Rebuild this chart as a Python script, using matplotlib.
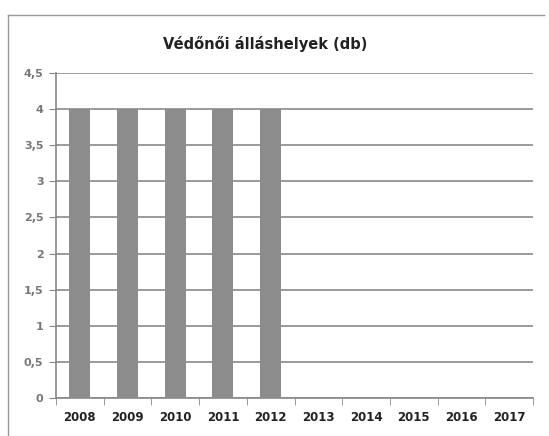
import matplotlib.pyplot as plt
import numpy as np

# Data
years = ['2008', '2009', '2010', '2011', '2012', '2013', '2014', '2015', '2016', '2017']
positions = [4, 4, 4, 4, 4, 0, 0, 0, 0, 0]
yticks = [0, 0.5, 1, 1.5, 2, 2.5, 3, 3.5, 4, 4.5]
ytick_labels = ['0', '0,5', '1', '1,5', '2', '2,5', '3', '3,5', '4', '4,5']

fig = plt.figure(figsize=(5.49, 4.36), dpi=100)
ax = fig.add_axes([0.102, 0.087, 0.869, 0.746])

x = np.arange(len(years))
ax.bar(x, positions, width=0.44, color='#8c8c8c', zorder=3)

ax.set_xlim(-0.5, len(years) - 0.5)
ax.set_ylim(0, 4.5)
ax.set_yticks(yticks)
ax.set_yticklabels(ytick_labels, fontsize=8, fontweight='bold', color='#777777')
ax.set_xticks(x)
ax.set_xticklabels(years, fontsize=8.5, fontweight='bold', color='#222222')
ax.set_xticks(np.arange(len(years) + 1) - 0.5, minor=True)
ax.tick_params(axis='x', which='major', length=0, pad=9)
ax.tick_params(axis='x', which='minor', length=5, color='#888888')
ax.tick_params(axis='y', length=5, color='#888888', pad=4)

ax.grid(axis='y', color='#8a8a8a', linewidth=1.2, zorder=0)
for side in ['top', 'right']:
    ax.spines[side].set_visible(False)
for side in ['left', 'bottom']:
    ax.spines[side].set_color('#888888')
    ax.spines[side].set_linewidth(1.2)

fig.text(0.483, 0.9, 'Védőnői álláshelyek (db)', ha='center', va='center',
         fontsize=10.5, fontweight='heavy', color='#222222')

# partial frame of the original chart area
fig.add_artist(plt.Line2D([0.015, 0.015], [0.0, 0.965], color='#999999', lw=1))
fig.add_artist(plt.Line2D([0.015, 0.99], [0.965, 0.965], color='#999999', lw=1))

plt.savefig('out.png', dpi=100, facecolor='white')
